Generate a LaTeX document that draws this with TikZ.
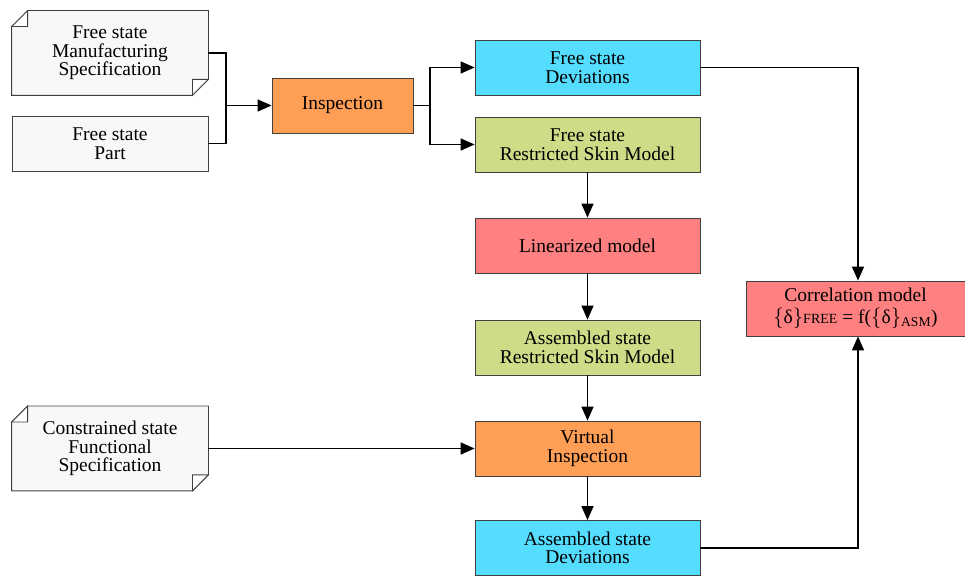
\documentclass[tikz,border=0pt]{standalone}
\usepackage{fontspec}
\setmainfont{Liberation Serif}
\usetikzlibrary{positioning, arrows.meta, calc}

\definecolor{devblue}{HTML}{55DDFF}
\definecolor{skingreen}{HTML}{CEDC88}
\definecolor{modelred}{HTML}{FF8080}
\definecolor{insporange}{HTML}{FF9F55}
\definecolor{notegray}{HTML}{F8F8F8}
\definecolor{edgegray}{HTML}{404040}

\tikzset{
    box/.style={draw=edgegray, line width=0.8pt, minimum width=225pt, minimum height=55pt,
        align=center, inner sep=2pt, font=\fontsize{19.5}{18.5}\selectfont},
    note/.style={box, draw=none, minimum width=196pt},
    flow/.style={line width=1.4pt, -{Triangle[length=14pt, width=12pt]}},
    link/.style={line width=1.4pt},
}

% folded note outline round a node
\newcommand{\notecard}[1]{
    \draw[draw=edgegray, line width=0.8pt, fill=notegray]
        ($(#1.north west)+(16,0)$) -- (#1.north east) -- ($(#1.south east)+(0,16)$)
        -- ($(#1.south east)+(-16,0)$) -- (#1.south west) -- ($(#1.north west)+(0,-16)$) -- cycle;
    \draw[draw=edgegray, line width=0.8pt, fill=white]
        ($(#1.north west)+(0,-16)$) -- ($(#1.north west)+(16,0)$) -- ($(#1.north west)+(16,-16)$) -- cycle;
    \draw[draw=edgegray, line width=0.8pt, fill=white]
        ($(#1.south east)+(0,16)$) -- ($(#1.south east)+(-16,16)$) -- ($(#1.south east)+(-16,0)$) -- cycle;
}

\begin{document}
\begin{tikzpicture}[x=1pt, y=1pt]
    \useasboundingbox (0,0) rectangle (965,575);

    % Inputs
    \node[note, minimum height=84pt] (spec) at (110, 522) {Free state\\Manufacturing\\Specification};
    \notecard{spec}
    \node[note, minimum height=84pt] (spec) at (110, 522) {Free state\\Manufacturing\\Specification};
    \node[box, fill=notegray, minimum width=196pt] (part) at (110, 431.5) {Free state\\Part};
    \node[note, minimum height=84pt] (cspec) at (110, 126.5) {Constrained state\\Functional\\Specification};
    \notecard{cspec}
    \node[note, minimum height=84pt] (cspec) at (110, 126.5) {Constrained state\\Functional\\Specification};

    % Main column
    \node[box, fill=insporange, minimum width=141pt] (insp) at (342.5, 469.5) {Inspection};
    \node[box, fill=devblue] (fdev) at (587.5, 507.5) {Free state\\Deviations};
    \node[box, fill=skingreen] (frsm) at (587.5, 430.5) {Free state\\Restricted Skin Model};
    \node[box, fill=modelred] (lin) at (587.5, 329.5) {Linearized model};
    \node[box, fill=skingreen] (arsm) at (587.5, 227.5) {Assembled state\\Restricted Skin Model};
    \node[box, fill=insporange] (vinsp) at (587.5, 126.5) {Virtual\\Inspection};
    \node[box, fill=devblue] (adev) at (587.5, 27) {Assembled state\\Deviations};

    % Output
    \node[box, fill=modelred, minimum width=219pt] (corr) at (855.5, 266.5)
        {Correlation model\\[3pt]$\{$δ$\}${\fontsize{14}{14}\selectfont FREE} = f($\{$δ$\}$\textsubscript{ASM})};

    % Junctions
    \coordinate (jin) at (226, 469.5);
    \coordinate (jout) at (430, 469.5);

    \draw[link] (spec.east) -| (jin);
    \draw[link] (part.east) -| (jin);
    \draw[flow] (jin) -- (insp.west);
    \draw[link] (insp.east) -- (jout);
    \draw[flow] (jout) |- (fdev.west);
    \draw[flow] (jout) |- (frsm.west);

    \draw[flow] (frsm) -- (lin);
    \draw[flow] (lin) -- (arsm);
    \draw[flow] (arsm) -- (vinsp);
    \draw[flow] (vinsp) -- (adev);
    \draw[flow] (cspec.east) -- (vinsp.west);

    \draw[flow] (fdev.east) -| ([xshift=2.5pt]corr.north);
    \draw[flow] (adev.east) -| ([xshift=2.5pt]corr.south);
\end{tikzpicture}
\end{document}
